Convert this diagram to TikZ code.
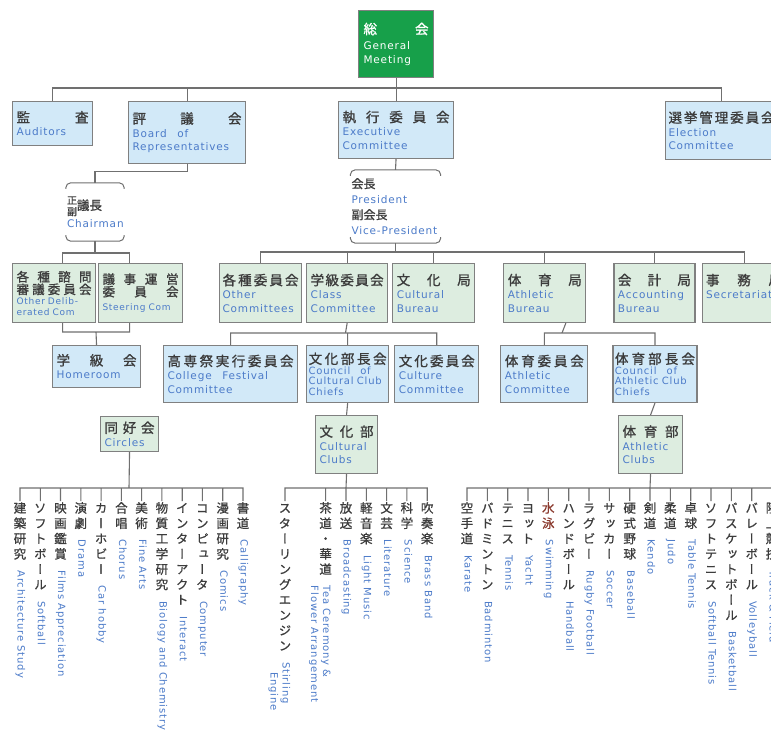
\documentclass[tikz,border=0pt]{standalone}
\usepackage{fontspec}
\usepackage{graphicx}
\setmainfont{DejaVu Sans}
\newfontfamily\enfont{DejaVu Sans}[LetterSpace=8]
\newfontfamily\enfontb{DejaVu Sans}[LetterSpace=9]
\newfontfamily\jpfont{Noto Sans CJK JP}[FakeBold=1.2]
\newfontfamily\jpvfont{Noto Sans CJK JP}[RawFeature=+vert, FakeBold=0.8]
\usetikzlibrary{positioning}
\definecolor{lineg}{HTML}{707070}
\definecolor{boxline}{HTML}{808080}
\definecolor{bluefill}{HTML}{D2E9F8}
\definecolor{greenfill}{HTML}{DDEDE0}
\definecolor{gmgreen}{HTML}{17A04A}
\definecolor{enblue}{HTML}{4C7BC9}
\definecolor{jpgray}{HTML}{3C3C3C}
\definecolor{swimred}{HTML}{8B3A2E}
\hyphenpenalty=10000
\exhyphenpenalty=10000
\def\tatecolor{jpgray}
\makeatletter
\newcommand\spread[1]{\leavevmode\hbox to\linewidth{\def\sp@sep{}\@tfor\sp@c:=#1\do{\sp@sep\sp@c\def\sp@sep{\hfill}}}}
\newcommand\jpt[2][jpgray]{{\jpfont\fontsize{13.5}{16}\selectfont\color{#1}\spread{#2}}}
\newcommand\jps[1]{{\jpfont\fontsize{12.5}{14}\selectfont\color{jpgray}\spread{#1}}}
\newcommand\tate[1]{\vbox{\offinterlineskip\jpvfont\fontsize{12.5}{15}\selectfont\color{\tatecolor}\@tfor\ta@c:=#1\do{\hbox to 14pt{\vrule height 11.5pt depth 3.8pt width 0pt\hss\smash{\ta@c}\hss}}}}
\newcommand\entext[1]{\rotatebox{-90}{\enfontb\fontsize{10}{12}\selectfont\color{enblue}\strut #1}}
\newcommand\tateitem[3][]{\vbox{\offinterlineskip\tate{#2}\kern8pt\hbox to 14pt{\hss\llap{\entext{#1}}\entext{#3}\hss}}}
\makeatother

\begin{document}
\begin{tikzpicture}[x=1pt, y=-1pt,
  org/.style={draw=boxline, line width=1.1pt, anchor=north west, inner xsep=4pt, inner ysep=2pt, align=left, text=enblue, font=\enfont\fontsize{10.5}{13.5}\selectfont},
  bluebox/.style={org, fill=bluefill},
  greenbox/.style={org, fill=greenfill},
  conn/.style={draw=lineg, line width=1.1pt},
  brk/.style={draw=lineg, line width=1pt, rounded corners=5pt},
  person/.style={inner sep=0pt, align=left, text=enblue, font=\enfont\fontsize{10.5}{15.5}\selectfont},
  item/.style={anchor=north, inner sep=0pt}]
\useasboundingbox (0,0) rectangle (771,735);
\fill[white] (0,0) rectangle (771,735);

\node[org, fill=gmgreen, text=white, minimum width=75pt, text width=65pt, minimum height=67pt, inner xsep=5pt] (gm) at (358,10) {\jpt[white]{総会}\\[2pt]General\\Meeting};

\node[bluebox, minimum width=80pt, text width=72pt, minimum height=44pt] (aud) at (12,101) {\jpt{監査}\\Auditors};
\node[bluebox, minimum width=117pt, text width=109pt, minimum height=62pt] (board) at (128,101) {\jpt{評議会}\\Board\quad of\\Representatives};
\node[bluebox, minimum width=115pt, text width=107pt, minimum height=57pt] (exec) at (338,101) {\jpt{執行委員会}\\Executive\\Committee};
\node[bluebox, minimum width=112pt, text width=106pt, minimum height=58pt, inner xsep=3pt] (elec) at (665,101) {\jpt{選挙管理委員会}\\Election\\Committee};
\coordinate (topbus) at (395.5,88);
\draw[conn] (gm.south) -- (exec.north)
  (aud.north) |- (topbus)
  (board.north) |- (topbus)
  (elec.north) |- (topbus);

\node[person, minimum width=58pt, minimum height=58pt, text width=56pt] (chair) at (95,212) {{\jpfont\color{jpgray}\fontsize{10}{10.5}\selectfont\begin{tabular}{@{}c@{}}正\\副\end{tabular}\fontsize{12.5}{14}\selectfont 議長}\\Chairman};
\draw[brk] ([yshift=-6pt]chair.north west) -- (chair.north west) -- (chair.north east) -- ([yshift=-6pt]chair.north east)
  ([yshift=6pt]chair.south west) -- (chair.south west) -- (chair.south east) -- ([yshift=6pt]chair.south east);
\draw[conn] (board.south) -- ++(0,7) -| (chair.north);

\node[greenbox, minimum width=83pt, text width=75pt, minimum height=59pt, font=\enfont\fontsize{9}{10.5}\selectfont] (odc) at (12,263) {\jps{各種諮問}\\\jps{審議委員会}\\Other Delib-\\erated Com};
\node[greenbox, minimum width=84pt, text width=76pt, minimum height=59pt, font=\enfont\fontsize{9}{10.5}\selectfont] (steer) at (98,263) {\jps{議事運営}\\\jps{委員会}\\[4pt]Steering Com};
\coordinate (chbus) at (95,253);
\draw[conn] (chair.south) -- (chbus)
  ([xshift=8.5pt]odc.north) |- (chbus)
  ([xshift=-11pt]steer.north) |- (chbus);
\node[bluebox, minimum width=88pt, text width=80pt, minimum height=42pt] (home) at (52,345) {\jpt{学級会}\\Homeroom};
\coordinate (hrbus) at (96,332);
\draw[conn] ([xshift=8.5pt]odc.south) |- (hrbus)
  ([xshift=-11pt]steer.south) |- (hrbus)
  (hrbus) -- (home.north);

\node[person, minimum width=90pt, minimum height=73pt, text width=88pt] (pres) at (395.5,206.5) {{\jpfont\color{jpgray}\fontsize{12}{15.5}\selectfont 会長}\\President\\{\jpfont\color{jpgray}\fontsize{12}{15.5}\selectfont 副会長}\\Vice-President};
\draw[brk] ([yshift=-6pt]pres.north west) -- (pres.north west) -- (pres.north east) -- ([yshift=-6pt]pres.north east)
  ([yshift=6pt]pres.south west) -- (pres.south west) -- (pres.south east) -- ([yshift=6pt]pres.south east);
\draw[conn] (exec.south) -- (pres.north);

\node[greenbox, minimum width=82pt, text width=76pt, inner xsep=3pt, minimum height=59pt] (other) at (219,263) {\jpt{各種委員会}\\Other\\Committees};
\node[greenbox, minimum width=81pt, text width=73pt, minimum height=59pt, right=4pt of other] (class) {\jpt{学級委員会}\\Class\\Committee};
\node[greenbox, minimum width=82pt, text width=74pt, minimum height=59pt, right=4pt of class] (cultb) {\jpt{文化局}\\Cultural\\Bureau};
\node[greenbox, minimum width=82pt, text width=74pt, minimum height=59pt, right=28pt of cultb] (athb) {\jpt{体育局}\\Athletic\\Bureau};
\node[greenbox, minimum width=81pt, text width=73pt, minimum height=59pt, right=27pt of athb] (acct) {\jpt{会計局}\\Accounting\\Bureau};
\node[greenbox, minimum width=84pt, text width=76pt, minimum height=59pt, right=6pt of acct] (secr) {\jpt{事務局}\\Secretariat\\\mbox{}};
\coordinate (r3bus) at (395.5,252);
\draw[conn] (pres.south) -- (r3bus)
  (other.north) |- (r3bus)
  (class.north) |- (r3bus)
  (cultb.north) |- (r3bus)
  (athb.north) |- (r3bus)
  (acct.north) |- (r3bus)
  (secr.north) |- (r3bus);

\node[bluebox, minimum width=134pt, text width=126pt, minimum height=57pt] (fest) at (163,345) {\jpt{高専祭実行委員会}\\College\quad Festival\\Committee};
\node[bluebox, minimum width=82pt, text width=78pt, inner xsep=2pt, minimum height=57pt, font=\enfont\fontsize{10}{10.5}\selectfont, right=8pt of fest] (ccc) {\jpt{文化部長会}\\Council\quad of\\Cultural Club\\Chiefs};
\node[bluebox, minimum width=84pt, text width=76pt, minimum height=57pt, right=5pt of ccc] (cultc) {\jpt{文化委員会}\\Culture\\Committee};
\node[bluebox, minimum width=87pt, text width=79pt, minimum height=57pt, right=21pt of cultc] (athc) {\jpt{体育委員会}\\Athletic\\Committee};
\node[bluebox, minimum width=84pt, text width=80pt, inner xsep=2pt, minimum height=57pt, font=\enfont\fontsize{10}{10.5}\selectfont, right=24pt of athc] (cac) {\jpt{体育部長会}\\Council\quad of\\Athletic Club\\Chiefs};
\coordinate (r4bus) at (345.5,333);
\draw[conn] (class.south) -- (r4bus)
  (fest.north) |- (r4bus)
  (ccc.north) |- (r4bus)
  (cultc.north) |- (r4bus);
\coordinate (a4bus) at (562,333);
\draw[conn] ([xshift=21pt]athb.south) -- (a4bus)
  (athc.north) |- (a4bus)
  (cac.north) |- (a4bus);

\node[greenbox, minimum width=58pt, text width=50pt, minimum height=35pt] (circ) at (100,416) {\jpt{同好会}\\Circles};
\node[greenbox, minimum width=62pt, text width=54pt, minimum height=58pt] (cclub) at (315,415) {\jpt{文化部}\\Cultural\\Clubs};
\node[greenbox, minimum width=64pt, text width=56pt, minimum height=58pt] (aclub) at (618,415) {\jpt{体育部}\\Athletic\\Clubs};
\draw[conn] (ccc.south) -- (cclub.north)
  (cac.south) -- (aclub.north);

\node[item] (c1) at (20,501) {\tateitem{建築研究}{Architecture Study}};
\node[item] (c2) at (40.3,501) {\tateitem{ソフトボール}{Softball}};
\node[item] (c3) at (60.5,501) {\tateitem{映画鑑賞}{Films Appreciation}};
\node[item] (c4) at (80.8,501) {\tateitem{演劇}{Drama}};
\node[item] (c5) at (101.1,501) {\tateitem{カーホビー}{Car hobby}};
\node[item] (c6) at (121.4,501) {\tateitem{合唱}{Chorus}};
\node[item] (c7) at (141.6,501) {\tateitem{美術}{Fine Arts}};
\node[item] (c8) at (161.9,501) {\tateitem{物質工学研究}{Biology and Chemistry}};
\node[item] (c9) at (182.2,501) {\tateitem{インターアクト}{Interact}};
\node[item] (c10) at (202.4,501) {\tateitem{コンピュータ}{Computer}};
\node[item] (c11) at (222.7,501) {\tateitem{漫画研究}{Comics}};
\node[item] (c12) at (243,501) {\tateitem{書道}{Calligraphy}};
\coordinate (cbus) at (129,488);
\draw[conn] (circ.south) -- (cbus)
  (c1.north) |- (cbus) (c2.north) |- (cbus) (c3.north) |- (cbus)
  (c4.north) |- (cbus) (c5.north) |- (cbus) (c6.north) |- (cbus)
  (c7.north) |- (cbus) (c8.north) |- (cbus) (c9.north) |- (cbus)
  (c10.north) |- (cbus) (c11.north) |- (cbus) (c12.north) |- (cbus);

\node[item] (k1) at (285,501) {\tateitem[\hspace{10pt}Engine]{スターリングエンジン}{Stirling}};
\node[item] (k2) at (325.6,501) {\tateitem[Flower Arrangement]{茶道・華道}{Tea Ceremony \&}};
\node[item] (k3) at (346,501) {\tateitem{放送}{Broadcasting}};
\node[item] (k4) at (366.3,501) {\tateitem{軽音楽}{Light Music}};
\node[item] (k5) at (386.6,501) {\tateitem{文芸}{Literature}};
\node[item] (k6) at (406.9,501) {\tateitem{科学}{Science}};
\node[item] (k7) at (427.2,501) {\tateitem{吹奏楽}{Brass Band}};
\coordinate (kbus) at (346,488);
\draw[conn] (cclub.south) -- (kbus)
  (k1.north) |- (kbus) (k2.north) |- (kbus) (k3.north) |- (kbus)
  (k4.north) |- (kbus) (k5.north) |- (kbus) (k6.north) |- (kbus)
  (k7.north) |- (kbus);

\node[item] (s1) at (467,501) {\tateitem{空手道}{Karate}};
\node[item] (s2) at (487.3,501) {\tateitem{バドミントン}{Badminton}};
\node[item] (s3) at (507.7,501) {\tateitem{テニス}{Tennis}};
\node[item] (s4) at (528,501) {\tateitem{ヨット}{Yacht}};
\node[item] (s5) at (548.3,501) {\def\tatecolor{swimred}\tateitem{水泳}{Swimming}};
\node[item] (s6) at (568.7,501) {\tateitem{ハンドボール}{Handball}};
\node[item] (s7) at (589,501) {\tateitem{ラグビー}{Rugby Football}};
\node[item] (s8) at (609.3,501) {\tateitem{サッカー}{Soccer}};
\node[item] (s9) at (629.7,501) {\tateitem{硬式野球}{Baseball}};
\node[item] (s10) at (650,501) {\tateitem{剣道}{Kendo}};
\node[item] (s11) at (670.3,501) {\tateitem{柔道}{Judo}};
\node[item] (s12) at (690.7,501) {\tateitem{卓球}{Table Tennis}};
\node[item] (s13) at (711,501) {\tateitem{ソフトテニス}{Softball Tennis}};
\node[item] (s14) at (731.3,501) {\tateitem{バスケットボール}{Basketball}};
\node[item] (s15) at (751.7,501) {\tateitem{バレーボール}{Volleyball}};
\node[item] (s16) at (772,501) {\tateitem{陸上競技}{Track \& Field}};
\coordinate (sbus) at (650,488);
\draw[conn] (aclub.south) -- (sbus)
  (s1.north) |- (sbus) (s2.north) |- (sbus) (s3.north) |- (sbus)
  (s4.north) |- (sbus) (s5.north) |- (sbus) (s6.north) |- (sbus)
  (s7.north) |- (sbus) (s8.north) |- (sbus) (s9.north) |- (sbus)
  (s10.north) |- (sbus) (s11.north) |- (sbus) (s12.north) |- (sbus)
  (s13.north) |- (sbus) (s14.north) |- (sbus) (s15.north) |- (sbus)
  (s16.north) |- (sbus);
\end{tikzpicture}
\end{document}
